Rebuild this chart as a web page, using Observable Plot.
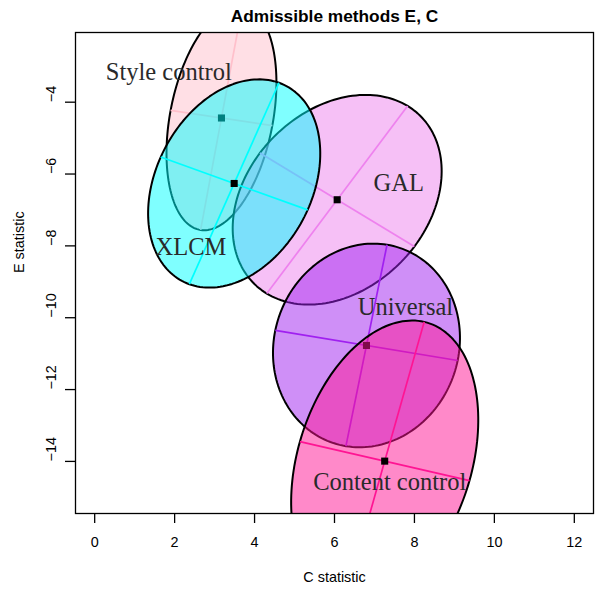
<!DOCTYPE html>
<html>
<head>
<meta charset="utf-8">
<script src="https://cdn.jsdelivr.net/npm/d3@7"></script>
<script src="https://cdn.jsdelivr.net/npm/@observablehq/plot@0.6"></script>
<style>
  html, body { margin: 0; padding: 0; background: #fff; }
  #chart svg { display: block; }
</style>
</head>
<body>
<div id="chart"></div>
<script>
// ---- data ----
const methods   = ["Style control", "GAL", "XLCM", "Universal", "Content control"]; // drawing order
const colors    = ["#FFC0CB", "#EE82EE", "#00FFFF", "#A020F0", "#FF1493"];
const centerX   = [3.172, 6.067, 3.490, 6.800, 7.256];
const centerY   = [-4.440, -6.716, -6.263, -10.772, -13.992];
const semiMajor = [3.16, 3.15, 3.02, 2.85, 4.00];
const semiMinor = [1.29, 2.33, 1.98, 2.32, 2.19];
const angleDeg  = [80.5, 56.0, 68.2, 79.6, 75.7];
const labelX    = [1.854, 7.608, 2.409, 7.776, 7.381];
const labelY    = [-3.165, -6.260, -8.022, -9.700, -14.590];
const xTicks    = [0, 2, 4, 6, 8, 10, 12];
const yTicks    = [-14, -12, -10, -8, -6, -4];
const xLimits   = [-0.48, 12.48];
const yLimits   = [-15.45, -2.06];
const titleText = "Admissible methods E, C";
const xTitle    = "C statistic";
const yTitle    = "E statistic";

// ---- geometry built from the ellipse parameters (data space) ----
function ellipsePoints(i) {
  const th = angleDeg[i] * Math.PI / 180, a = semiMajor[i], b = semiMinor[i];
  const pts = [];
  for (let k = 0; k < 180; k++) {
    const t = 2 * Math.PI * k / 180;
    pts.push({
      x: centerX[i] + a * Math.cos(t) * Math.cos(th) - b * Math.sin(t) * Math.sin(th),
      y: centerY[i] + a * Math.cos(t) * Math.sin(th) + b * Math.sin(t) * Math.cos(th)
    });
  }
  return pts;
}
function axisSegments(i) {
  const th = angleDeg[i] * Math.PI / 180, a = semiMajor[i], b = semiMinor[i];
  const cx = centerX[i], cy = centerY[i];
  return [
    {x1: cx - a * Math.cos(th), y1: cy - a * Math.sin(th), x2: cx + a * Math.cos(th), y2: cy + a * Math.sin(th)},
    {x1: cx + b * Math.sin(th), y1: cy - b * Math.cos(th), x2: cx - b * Math.sin(th), y2: cy + b * Math.cos(th)}
  ];
}

const marks = [];
methods.forEach((m, i) => {
  marks.push(Plot.line(ellipsePoints(i), {
    x: "x", y: "y", curve: "linear-closed",
    fill: colors[i], fillOpacity: 0.5,
    stroke: "black", strokeWidth: 2, clip: true
  }));
  marks.push(Plot.link(axisSegments(i), {
    x1: "x1", y1: "y1", x2: "x2", y2: "y2",
    stroke: colors[i], strokeWidth: 1.7, clip: true
  }));
  marks.push(Plot.dot([{x: centerX[i], y: centerY[i]}], {
    x: "x", y: "y", symbol: "square", r: 4, fill: "black", stroke: null
  }));
});

const labels = methods.map((m, i) => ({name: m, x: labelX[i], y: labelY[i]}));
marks.push(Plot.text(labels, {
  x: "x", y: "y", text: "name", lineAnchor: "middle",
  fontFamily: "Liberation Serif, Times New Roman, serif",
  fontSize: 24.5, fill: "#2a2a2a"
}));

marks.push(Plot.frame({stroke: "black", strokeWidth: 1.3}));

// axes (R style)
marks.push(Plot.axisX({ticks: xTicks, tickSize: 10, tickPadding: 13.5, label: null,
  tickFormat: d => d3.format("d")(d), stroke: "black", strokeWidth: 1.3}));
marks.push(Plot.axisY({ticks: yTicks, tickSize: 10, label: null,
  tickFormat: () => "", stroke: "black", strokeWidth: 1.3}));
marks.push(Plot.text(yTicks, {
  y: d => d, text: d => d3.format("d")(d), frameAnchor: "left", lineAnchor: "middle",
  dx: -24, rotate: -90, fill: "black"
}));
marks.push(Plot.text([xTitle], {text: d => d, frameAnchor: "bottom", lineAnchor: "middle",
  dy: 63.7, fill: "black"}));
marks.push(Plot.text([yTitle], {text: d => d, frameAnchor: "left", lineAnchor: "middle",
  dx: -56, rotate: -90, fill: "black"}));
marks.push(Plot.text([titleText], {text: d => d, frameAnchor: "top", lineAnchor: "middle",
  dy: -16.1, fontWeight: "bold", fontSize: 17.3, fill: "black"}));

const chart = Plot.plot({
  width: 607,
  height: 594,
  marginLeft: 75,
  marginRight: 14,
  marginTop: 32,
  marginBottom: 81,
  style: {fontFamily: "Liberation Sans, Arial, Helvetica, sans-serif", fontSize: "14.4px", background: "white", color: "black"},
  x: {domain: xLimits, axis: null},
  y: {domain: yLimits, axis: null},
  marks
});
document.getElementById("chart").appendChild(chart);
</script>
</body>
</html>
